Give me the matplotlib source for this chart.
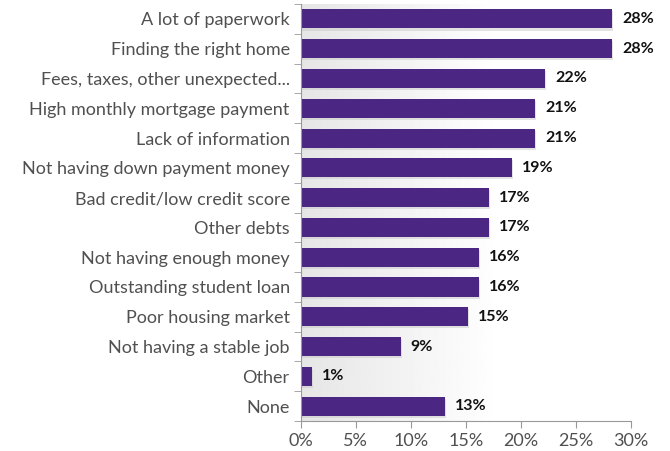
import numpy as np
import matplotlib.pyplot as plt
from matplotlib.ticker import FuncFormatter, FixedLocator

categories = ['A lot of paperwork', 'Finding the right home', 'Fees, taxes, other unexpected...',
              'High monthly mortgage payment', 'Lack of information', 'Not having down payment money',
              'Bad credit/low credit score', 'Other debts', 'Not having enough money',
              'Outstanding student loan', 'Poor housing market', 'Not having a stable job',
              'Other', 'None']
values = [28.3, 28.3, 22.2, 21.3, 21.3, 19.2, 17.1, 17.1, 16.2, 16.2, 15.2, 9.1, 1.0, 13.1]
value_labels = ['28%', '28%', '22%', '21%', '21%', '19%', '17%', '17%', '16%', '16%',
                '15%', '9%', '1%', '13%']
xticks = [0, 5, 10, 15, 20, 25, 30]

plt.rcParams['font.family'] = ['Lato', 'DejaVu Sans']

fig = plt.figure(figsize=(6.7, 4.51), dpi=100)
ax = fig.add_axes([0.449, 0.0665, 0.4925, 0.9246])

y = np.arange(len(categories))

# soft grey gradient behind the bars, fading out to the right
xx = np.linspace(0, 1, 256)
grad = np.clip(0.90 + 0.10 * xx / 0.6, 0, 1).reshape(1, -1)
ax.imshow(grad, extent=[0, 30, len(categories) - 0.5, -0.5], aspect='auto',
          cmap='gray', vmin=0, vmax=1, zorder=0)

# faint shadow under the bars
ax.barh(y + 0.07, values, height=0.64, left=0.12, color='#c8c8c8', alpha=0.5, zorder=1)
ax.barh(y, values, height=0.64, color='#4b2683', zorder=2)

for yi, v, lab in zip(y, values, value_labels):
    ax.text(v + 0.9, yi, lab, va='center', ha='left', fontsize=11.5,
            fontweight='bold', color='#111111', zorder=3)

ax.set_xlim(0, 30)
ax.set_ylim(len(categories) - 0.5, -0.5)
ax.set_yticks(y)
ax.set_yticklabels(categories, fontsize=13, color='#505050')
ax.yaxis.set_minor_locator(FixedLocator(np.arange(-0.5, len(categories), 1)))
ax.tick_params(axis='y', which='major', length=0, pad=8)
ax.tick_params(axis='y', which='minor', length=5, color='#999999')
ax.set_xticks(xticks)
ax.xaxis.set_major_formatter(FuncFormatter(lambda v, p: f'{int(v)}%'))
ax.tick_params(axis='x', length=5, color='#999999', labelsize=13, labelcolor='#505050')

for s in ['top', 'right']:
    ax.spines[s].set_visible(False)
for s in ['left', 'bottom']:
    ax.spines[s].set_color('#999999')

fig.savefig('out.png', dpi=100)
